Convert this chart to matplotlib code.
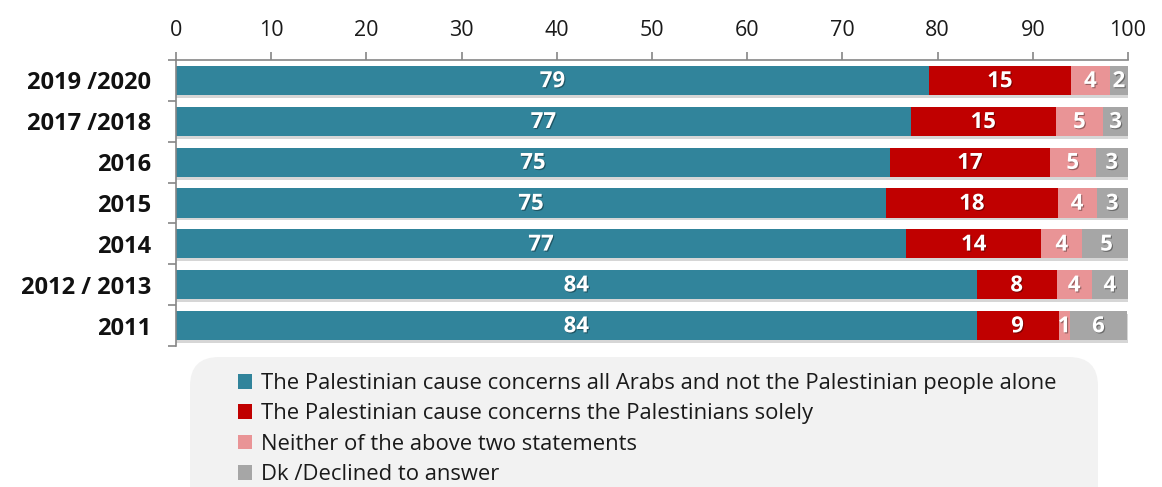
import matplotlib
matplotlib.use('Agg')
import matplotlib.pyplot as plt
import matplotlib.patheffects as pe
from matplotlib.patches import FancyBboxPatch
import numpy as np

plt.rcParams['font.family'] = ['Open Sans', 'DejaVu Sans']

# data (percent)
years = ['2019 /2020', '2017 /2018', '2016', '2015', '2014', '2012 / 2013', '2011']
all_arabs = [79.1, 77.2, 75.0, 74.6, 76.7, 84.1, 84.1]
pal_only = [14.9, 15.2, 16.8, 18.0, 14.2, 8.4, 8.6]
neither = [4.1, 5.0, 4.8, 4.1, 4.3, 3.7, 1.2]
dk = [1.9, 2.6, 3.4, 3.3, 5.1, 3.8, 6.0]

series = [all_arabs, pal_only, neither, dk]
labels = ['The Palestinian cause concerns all Arabs and not the Palestinian people alone',
          'The Palestinian cause concerns the Palestinians solely',
          'Neither of the above two statements',
          'Dk /Declined to answer']
colors = ['#31849B', '#C00000', '#E99496', '#A6A6A6']

W, H = 1162, 487
fig = plt.figure(figsize=(W / 100, H / 100), dpi=100)
ax = fig.add_axes([176 / W, 1 - 346 / H, (1128 - 176) / W, (346 - 60) / H])

y = np.arange(len(years))
bh = 0.71

# soft shadow under bars
totals = np.sum(series, axis=0)
ax.barh(y + 0.07, totals + 0.25, height=bh, left=0, color='#d6d6d6', zorder=1)

left = np.zeros(len(years))
handles = []
for vals, col, lab in zip(series, colors, labels):
    vals = np.array(vals)
    b = ax.barh(y, vals, height=bh, left=left, color=col, label=lab, zorder=2)
    handles.append(b)
    for yi, l, v in zip(y, left, vals):
        ax.text(l + v / 2, yi + 0.03, str(int(round(v))), ha='center', va='center',
                color='white', fontsize=16, fontweight='bold', zorder=3,
                path_effects=[pe.withSimplePatchShadow(offset=(0.8, -0.8), shadow_rgbFace='black', alpha=0.35)])
    left = left + vals

ax.set_xlim(0, 100)
ax.set_ylim(len(years) - 0.5, -0.5)
ax.xaxis.tick_top()
ax.set_xticks(np.arange(0, 101, 10))
ax.tick_params(axis='x', length=6, width=1.2, color='#868686', pad=8, labelsize=15.5, labelcolor='#1a1a1a')
ax.set_yticks(y)
ax.set_yticklabels(years, fontweight='bold', fontsize=17)
ax.set_yticks(np.arange(-0.5, len(years)), minor=True)
ax.tick_params(axis='y', which='major', length=0, pad=18, labelcolor='#111111')
ax.tick_params(axis='y', which='minor', length=6, width=1.2, color='#868686')

for s in ['right', 'bottom']:
    ax.spines[s].set_visible(False)
for s in ['top', 'left']:
    ax.spines[s].set_color('#868686')
    ax.spines[s].set_linewidth(1.2)

# legend background box (runs off the bottom edge)
box = FancyBboxPatch((190 / W, -0.1), (1098 - 190) / W, 0.1 + (H - 357) / H,
                     boxstyle='round,pad=0,rounding_size=0.025', transform=fig.transFigure,
                     facecolor='#F2F2F2', edgecolor='none', zorder=0, mutation_aspect=W / H)
fig.patches.append(box)

leg = fig.legend(handles=handles, labels=labels, loc='upper left',
                 bbox_to_anchor=(227 / W, 1 - 362 / H), frameon=False,
                 fontsize=15.8, handlelength=0.65, handleheight=0.65,
                 handletextpad=0.4, labelspacing=0.43, borderpad=0)
for t in leg.get_texts():
    t.set_color('#1a1a1a')

fig.savefig('out.png', dpi=100)
